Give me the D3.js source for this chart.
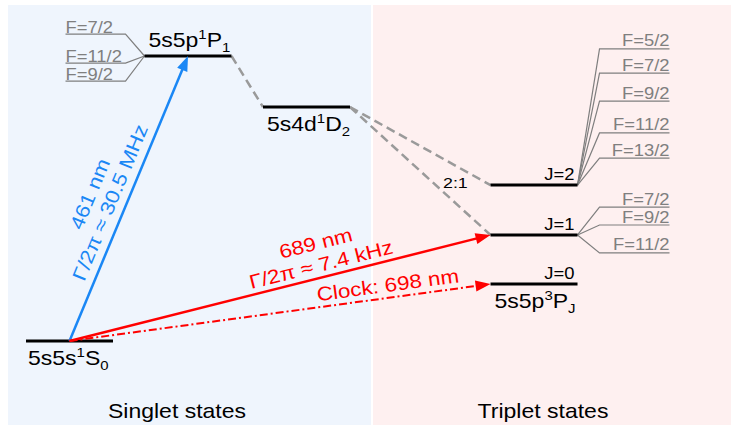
<!DOCTYPE html>
<html><head><meta charset="utf-8">
<script src="https://cdn.jsdelivr.net/npm/d3@7"></script>
<style>body{margin:0;background:#fff}svg{display:block;font-family:"Liberation Sans",Arial,sans-serif}</style>
</head><body><svg id="c" width="731" height="425"></svg>
<script>
// ---------- data (schematic energies / columns) ----------
const levelIds     = ["S0", "P1", "D2", "J0", "J1", "J2"];
const levelEnergy  = [0, 100, 82.1, 20, 37.2, 54.7];
const levelColumn  = [0, 1, 2, 3.92, 3.92, 3.92];
const levelTags    = ["", "", "", "J=0", "J=1", "J=2"];

const termLevel  = ["S0", "P1", "D2", "J0"];
const termConfig = ["5s5s", "5s5p", "5s4d", "5s5p"];
const termMult   = ["1", "1", "1", "3"];
const termL      = ["S", "P", "D", "P"];
const termJ      = ["0", "1", "2", "J"];
const termSide   = ["below", "above", "below", "below"];

const hfP1Labels = ["F=7/2", "F=11/2", "F=9/2"];
const hfP1Energy = [107.7, 97.5, 91.2];
const hfJ2Labels = ["F=5/2", "F=7/2", "F=9/2", "F=11/2", "F=13/2"];
const hfJ2Energy = [102.5, 94.0, 84.2, 73.0, 64.2];
const hfJ1Labels = ["F=7/2", "F=9/2", "F=11/2"];
const hfJ1Energy = [47.0, 40.7, 30.9];

const transFrom  = ["S0", "S0", "S0"];
const transTo    = ["P1", "J1", "J0"];
const transEnd   = ["center", "left", "left"];
const transKind  = ["blue", "red", "clock"];
const transText  = [["461 nm", "Γ/2π ≈ 30.5 MHz"], ["689 nm", "Γ/2π ≈ 7.4 kHz"], ["Clock: 698 nm"]];
const transAlong = [0.465, 0.605, 0.76];
const transGap   = [9, 6, 6];

const decayFrom = ["P1", "D2", "D2"];
const decayTo   = ["D2", "J2", "J1"];
const ratioText = "2:1";

const sectionNames = ["Singlet states", "Triplet states"];

// ---------- layout ----------
const W = 731, H = 425, S = 1.15;
const svg = d3.select("#c");
const y = d3.scaleLinear().domain([0, 100]).range([341, 56]);
const col = d3.scaleLinear().domain([0, 1]).range([69.5, 188]);
const halfW = 43.5;
const idx = id => levelIds.indexOf(id);
const lx0 = id => col(levelColumn[idx(id)]) - halfW;
const lx1 = id => col(levelColumn[idx(id)]) + halfW;
const ly  = id => y(levelEnergy[idx(id)]);

// backgrounds
svg.append("rect").attr("x", 8).attr("y", 5).attr("width", 363).attr("height", H - 5).attr("fill", "#eff5fd");
svg.append("rect").attr("x", 373).attr("y", 5).attr("width", W - 373).attr("height", H - 5).attr("fill", "#fef0f0");

function stext(x, yy, str, size, fill, anchor) {
  const g = svg.append("g").attr("transform", `translate(${x},${yy}) scale(${S},1)`);
  const t = g.append("text").attr("font-size", size).attr("fill", fill).attr("text-anchor", anchor || "start").text(str);
  return {g, t};
}

// decay (dashed grey)
decayFrom.forEach((f, i) => {
  svg.append("line").attr("x1", lx1(f)).attr("y1", ly(f)).attr("x2", lx0(decayTo[i])).attr("y2", ly(decayTo[i]))
    .attr("stroke", "#9a9a9a").attr("stroke-width", 2.5).attr("stroke-dasharray", "9,5");
});
stext(443, 188, ratioText, 15.5, "#000");

// hyperfine fans
const grey = "#7f7f7f";
hfP1Labels.forEach((lab, i) => {
  const x0 = lx0("P1"), yy = y(hfP1Energy[i]);
  svg.append("polyline").attr("points", `${x0},${ly("P1")} ${x0 - 19},${yy} ${x0 - 79},${yy}`)
    .attr("fill", "none").attr("stroke", grey).attr("stroke-width", 1.2);
  stext(x0 - 79, yy - 1.5, lab, 16, grey, "start");
});
function rightFan(id, labels, energies) {
  labels.forEach((lab, i) => {
    const x1 = lx1(id), yy = y(energies[i]);
    svg.append("polyline").attr("points", `${x1},${ly(id)} ${x1 + 22},${yy} ${x1 + 92},${yy}`)
      .attr("fill", "none").attr("stroke", grey).attr("stroke-width", 1.2);
    stext(x1 + 92, yy - 2.5, lab, 16, grey, "end");
  });
}
rightFan("J2", hfJ2Labels, hfJ2Energy);
rightFan("J1", hfJ1Labels, hfJ1Energy);

// levels
levelIds.forEach((id, i) => {
  svg.append("line").attr("x1", lx0(id)).attr("x2", lx1(id)).attr("y1", ly(id)).attr("y2", ly(id))
    .attr("stroke", "#000").attr("stroke-width", 3);
  if (levelTags[i]) stext(lx1(id) - 3, ly(id) - 5, levelTags[i], 16, "#000", "end");
});

// term labels
termLevel.forEach((id, i) => {
  const yy = termSide[i] === "above" ? ly(id) - 9 : ly(id) + 24;
  const x = lx0(id) + (i === 0 ? 2 : 4);
  const {t} = stext(x, yy, termConfig[i], 20, "#000");
  t.append("tspan").attr("font-size", 13).attr("dy", -8).text(termMult[i]);
  t.append("tspan").attr("dy", 8).text(termL[i]);
  t.append("tspan").attr("font-size", 13).attr("dy", 5).text(termJ[i]);
});

// transitions
const colors = {blue: "#1a87f5", red: "#ff0000", clock: "#ff0000"};
transFrom.forEach((f, i) => {
  const x1 = col(levelColumn[idx(f)]), y1 = ly(f);
  const to = transTo[i];
  const x2 = transEnd[i] === "center" ? col(levelColumn[idx(to)]) : lx0(to);
  const y2 = ly(to);
  const dx = x2 - x1, dy = y2 - y1, L = Math.hypot(dx, dy), ux = dx / L, uy = dy / L;
  const al = 15, aw = 5.5;
  const c = colors[transKind[i]];
  svg.append("line").attr("x1", x1).attr("y1", y1).attr("x2", x2 - ux * (al - 2)).attr("y2", y2 - uy * (al - 2))
    .attr("stroke", c).attr("stroke-width", transKind[i] === "clock" ? 2 : 2.5)
    .attr("stroke-dasharray", transKind[i] === "clock" ? "8,3,2,3" : null);
  const bx = x2 - ux * al, by = y2 - uy * al;
  svg.append("path").attr("d", `M${x2},${y2} L${bx - uy * aw},${by + ux * aw} L${bx + uy * aw},${by - ux * aw} Z`).attr("fill", c);
  // labels
  const rot = Math.atan2(dy, dx) * 180 / Math.PI;
  const px = x1 + dx * transAlong[i], py = y1 + dy * transAlong[i];
  const lines = transText[i];
  const g = svg.append("g").attr("transform", `translate(${px},${py}) rotate(${rot}) scale(${S},1)`);
  const n = lines.length;
  lines.forEach((s, k) => {
    g.append("text").attr("text-anchor", "middle").attr("font-size", 19.5).attr("fill", c)
      .attr("y", -transGap[i] - (n - 1 - k) * 22).text(s);
  });
});

// section labels
stext(177, 418, sectionNames[0], 20, "#000", "middle");
stext(543, 418, sectionNames[1], 20, "#000", "middle");
</script></body></html>
